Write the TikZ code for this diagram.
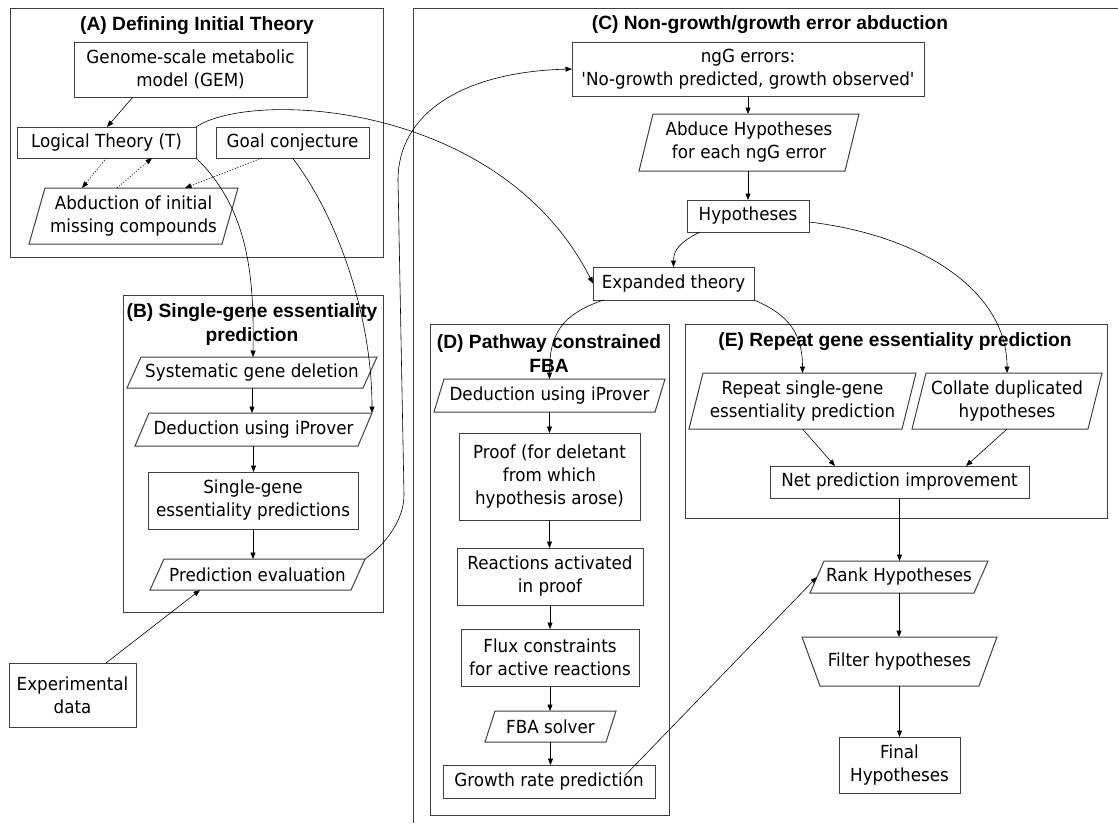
\documentclass[tikz,border=0pt]{standalone}
\usepackage{fontspec}
\setmainfont{DejaVu Sans}[FakeStretch=0.93,Ligatures=TeXOff]
\newfontfamily\titlefont{Liberation Sans}
\usetikzlibrary{arrows.meta,calc}
\newcommand{\slantframe}[2][7]{\draw[frame] ([xshift=-#1]#2.south west) -- ([xshift=#1]#2.north west) -- ([xshift=#1]#2.north east) -- ([xshift=-#1]#2.south east) -- cycle;}
\begin{document}
\begin{tikzpicture}[x=1pt,y=-1pt,
  every node/.style={inner sep=0pt, outer sep=0pt},
  body/.style={font=\fontsize{18}{23}\selectfont, align=center},
  rbox/.style={body, draw=black!75, line width=1pt},
  tnode/.style={body, draw=none},
  title/.style={font=\titlefont\bfseries\fontsize{19.2}{24}\selectfont, align=center},
  frame/.style={draw=black!75, line width=1pt},
  arr/.style={-{Triangle[length=6.5pt,width=5pt]}, line width=0.6pt, black},
  dot/.style={arr, dash pattern=on 1.2pt off 1.6pt},
]
\useasboundingbox (0,0) rectangle (1118,823);
\fill[white] (0,0) rectangle (1118,823);

% ---------- (A)
\draw[frame] (10,8) rectangle (383,257);
\node[title] (tA) at (197,26) {(A) Defining Initial Theory};
\node[rbox, minimum width=233, minimum height=55] (GEM) at (190.5,69.5) {Genome-scale metabolic\\model (GEM)};
\node[rbox, minimum width=179, minimum height=31] (LT) at (106.5,142.5) {Logical Theory (T)};
\node[rbox, minimum width=153, minimum height=31] (GC) at (292.5,142.5) {Goal conjecture};
\node[tnode, minimum width=193, minimum height=56] (AB) at (133.5,216) {Abduction of initial\\missing compounds};
\slantframe[8]{AB}

% ---------- (B)
\draw[frame] (123,295) rectangle (383,612);
\node[title] (tB) at (252,325) {(B) Single-gene essentiality\\prediction};
\node[tnode, minimum width=236, minimum height=31] (SGD) at (252,372.5) {Systematic gene deletion};
\slantframe{SGD}
\node[tnode, minimum width=223, minimum height=33] (DB) at (253.5,429.5) {Deduction using iProver};
\slantframe{DB}
\node[rbox, minimum width=210, minimum height=57] (SGP) at (253,500.5) {Single-gene\\essentiality predictions};
\node[tnode, minimum width=201, minimum height=31] (PE) at (257.5,574.5) {Prediction evaluation};
\slantframe{PE}
\node[rbox, minimum width=127, minimum height=64] (EX) at (72.5,695) {Experimental\\data};

% ---------- (C)
\draw[frame] (413,823) -- (413,8) -- (1118,8);
\node[title] (tC) at (770,25) {(C) Non-growth/growth error abduction};
\node[rbox, minimum width=352, minimum height=54] (NG) at (748,69) {ngG errors:\\'No-growth predicted, growth observed'};
\node[tnode, minimum width=206, minimum height=57] (AH) at (749,142.5) {Abduce Hypotheses\\for each ngG error};
\slantframe{AH}
\node[rbox, minimum width=122, minimum height=32] (HY) at (748,216) {Hypotheses};
\node[rbox, minimum width=161, minimum height=33] (ET) at (673.5,283.5) {Expanded theory};

% ---------- (D)
\draw[frame] (430,324) rectangle (669,815);
\node[title] (tD) at (549,353.5) {(D) Pathway constrained\\FBA};
\node[tnode, minimum width=221, minimum height=33] (DD) at (549.5,395.5) {Deduction using iProver};
\slantframe[5]{DD}
\node[rbox, minimum width=181, minimum height=87] (PR) at (549.5,476.5) {Proof (for deletant\\from which\\hypothesis arose)};
\node[rbox, minimum width=186, minimum height=57] (RA) at (550,576.5) {Reactions activated\\in proof};
\node[rbox, minimum width=178, minimum height=57] (FC) at (550,657.5) {Flux constraints\\for active reactions};
\node[tnode, minimum width=121, minimum height=31] (FS) at (550.5,726.5) {FBA solver};
\slantframe[5]{FS}
\node[rbox, minimum width=212, minimum height=33] (GR) at (549,781.5) {Growth rate prediction};

% ---------- (E)
\draw[frame] (685,324) rectangle (1107,518);
\node[title] (tE) at (895,342) {(E) Repeat gene essentiality prediction};
\node[tnode, minimum width=213, minimum height=56] (RS) at (802.5,401) {Repeat single-gene\\essentiality prediction};
\slantframe{RS}
\node[tnode, minimum width=176, minimum height=56] (CD) at (1007,401) {Collate duplicated\\hypotheses};
\slantframe{CD}
\node[rbox, minimum width=259, minimum height=32] (NP) at (899.5,482) {Net prediction improvement};
\node[tnode, minimum width=164, minimum height=32] (RH) at (899,577) {Rank Hypotheses};
\slantframe{RH}
\node[tnode, minimum width=177, minimum height=49] (FH) at (899.5,661.5) {Filter hypotheses};
\draw[frame] ([xshift=-9]FH.north west) -- ([xshift=9]FH.north east) -- ([xshift=-9]FH.south east) -- ([xshift=9]FH.south west) -- cycle;
\node[rbox, minimum width=121, minimum height=56] (FN) at (899.5,765) {Final\\Hypotheses};

% ---------- connectors
\draw[arr] ([xshift=-57.5]GEM.south) -- ([xshift=0.5]LT.north);
\draw[dot] (LT.south) -- ([xshift=-51.5]AB.north);
\draw[dot] ([xshift=-16.5]AB.north) -- ([xshift=45.5]LT.south);
\draw[dot] ([xshift=-30.5]GC.south) -- ([xshift=51.5]AB.north);
\draw[arr] (LT.south east) .. controls (250,210) and (254,280) .. ([xshift=1]SGD.north);
\draw[arr] (GC.south) .. controls (340,220) and (372,320) .. ([xshift=7]DB.north east);
\draw[arr] (LT.north east) .. controls (250,90) and (500,100) .. (ET.west);
\draw[arr] ([xshift=7]PE.north east) .. controls (385,545) and (404,520) .. (404,495) -- (398,180) .. controls (398,115) and (460,72) .. (NG.west);

\draw[arr] (SGD.south) -- (SGD.south |- DB.north);
\draw[arr] (DB.south) -- (DB.south |- SGP.north);
\draw[arr] (SGP.south) -- (SGP.south |- PE.north);
\draw[arr] ([xshift=33.5]EX.north) -- ([xshift=-57.5]PE.south);

\draw[arr] (NG.south) -- (NG.south |- AH.north);
\draw[arr] (HY.north |- AH.south) -- (HY.north);
\draw[arr] ([xshift=-48]HY.south) .. controls (680,242) and (673.5,250) .. (ET.north);
\draw[arr] ([yshift=-6]HY.east) .. controls (920,235) and (1007,290) .. (CD.north);
\draw[arr] ([xshift=-70]ET.south) .. controls (560,315) and (549.5,335) .. (DD.north);
\draw[arr] (ET.south east) .. controls (790,315) and (802.5,335) .. (RS.north);

\draw[arr] (DD.south) -- (DD.south |- PR.north);
\draw[arr] (PR.south) -- (PR.south |- RA.north);
\draw[arr] (RA.south) -- (RA.south |- FC.north);
\draw[arr] (FC.south) -- (FC.south |- FS.north);
\draw[arr] (FS.south) -- (FS.south |- GR.north);
\draw[arr] ([xshift=76,yshift=6]GR.center) -- (RH.west);

\draw[arr] (RS.south) -- ([xshift=-64.5]NP.north);
\draw[arr] (CD.south) -- ([xshift=66.5]NP.north);
\draw[arr] (NP.south) -- (NP.south |- RH.north);
\draw[arr] (RH.south) -- (RH.south |- FH.north);
\draw[arr] (FH.south) -- (FH.south |- FN.north);
\end{tikzpicture}
\end{document}
